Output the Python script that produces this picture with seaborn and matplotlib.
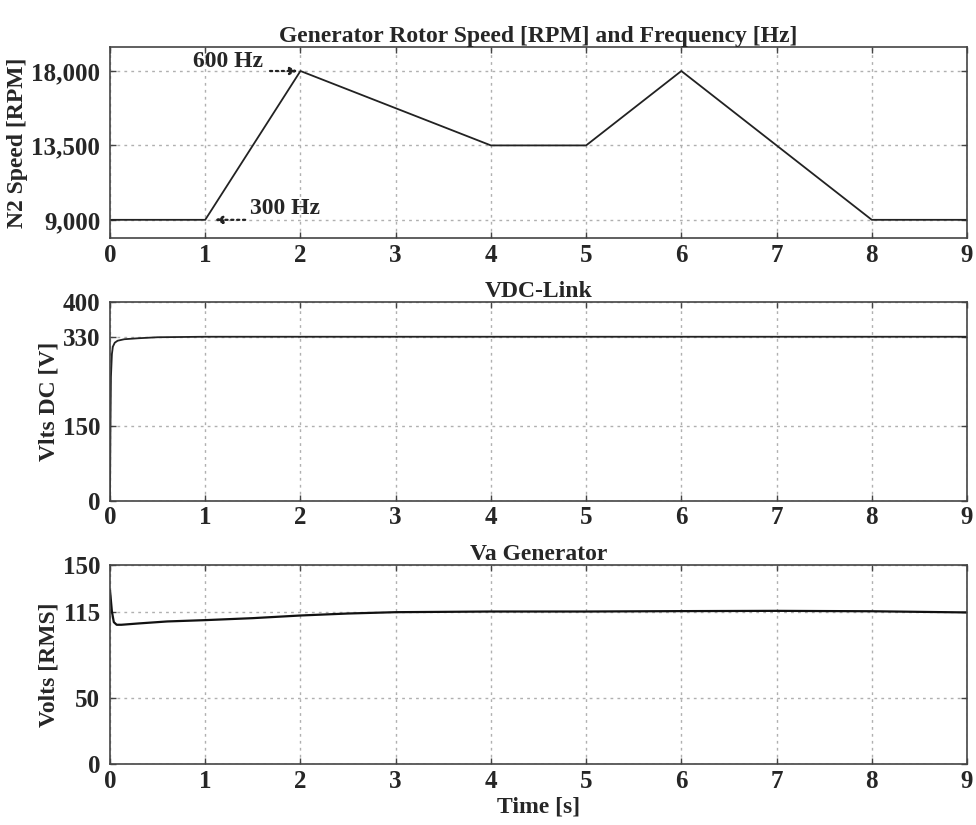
import matplotlib
matplotlib.use("Agg")
import matplotlib.pyplot as plt
import seaborn as sns
import pandas as pd
from matplotlib.ticker import FuncFormatter

sns.set_theme(style="white")
plt.rcParams['font.family'] = ['Liberation Serif', 'DejaVu Serif']
plt.rcParams['font.weight'] = 'bold'

# --- data ---
t_speed = [0, 1, 2, 4, 5, 6, 8, 9]
rpm = [9000, 9000, 18000, 13500, 13500, 18000, 9000, 9000]

t_vdc = [0, 0.005, 0.01, 0.02, 0.03, 0.05, 0.08, 0.15, 0.3, 0.5, 1, 9]
vdc = [0, 150, 250, 295, 310, 318, 322, 325, 327, 329, 330, 330]

t_va = [0, 0.02, 0.04, 0.07, 0.12, 0.3, 0.6, 1.0, 1.5, 2.0, 2.5, 3.0, 4.0, 5.0, 6.0, 7.0, 8.0, 9.0]
va = [131, 115, 107, 105, 105, 106, 107.5, 108.5, 110, 112, 113.5, 114.5, 115, 115, 115.3, 115.5, 115.2, 114.3]

xticks = list(range(0, 10))
speed_ticks = [9000, 13500, 18000]
vdc_ticks = [0, 150, 330, 400]
va_ticks = [0, 50, 115, 150]

fig = plt.figure(figsize=(9.76, 8.25), dpi=100)
L, W = 0.1127, 0.8781
ax1 = fig.add_axes([L, 0.7115, W, 0.2315])
ax2 = fig.add_axes([L, 0.393, W, 0.241])
ax3 = fig.add_axes([L, 0.074, W, 0.241])

tick_fs = 18
lab_fs = 17
title_fs = 17

def style(ax, yticks, ylim, title, ylabel):
    ax.set_xlim(0, 9)
    ax.set_ylim(*ylim)
    ax.set_xticks(xticks)
    ax.set_yticks(yticks)
    ax.grid(True, color='#b0b0b0', linestyle=(0, (2, 3)), linewidth=1.0)
    for s in ax.spines.values():
        s.set_color('#444444')
        s.set_linewidth(1.2)
    ax.tick_params(axis='both', labelsize=tick_fs, length=4, direction='in',
                   color='#444444', width=1)
    ax.tick_params(axis='y', pad=7)
    ax.tick_params(axis='x', pad=4)
    ax.tick_params(axis='both', which='both', top=True, right=True, left=True, bottom=True)
    for lbl in ax.get_xticklabels() + ax.get_yticklabels():
        lbl.set_fontweight('bold')
    ax.set_title(title, fontsize=title_fs, fontweight='bold', pad=1)
    ax.set_ylabel(ylabel, fontsize=lab_fs, fontweight='bold', labelpad=2)
    ax.set_xlabel('')

arrow_kw = dict(arrowstyle='-|>', linestyle=':', color='#222222', lw=1.6,
                mutation_scale=11, shrinkA=0, shrinkB=0)

df1 = pd.DataFrame({'t': t_speed, 'rpm': rpm})
sns.lineplot(data=df1, x='t', y='rpm', ax=ax1, color='#222222', linewidth=1.3)
style(ax1, speed_ticks, (7900, 19450), 'Generator Rotor Speed [RPM] and Frequency [Hz]', 'N2 Speed [RPM]')
ax1.yaxis.set_major_formatter(FuncFormatter(lambda v, p: f'{int(v):,}'))
for lbl in ax1.get_yticklabels():
    lbl.set_fontweight('bold')
ax1.text(1.61, 18600, '600 Hz', fontsize=17, fontweight='bold', ha='right', va='center')
ax1.annotate('', xy=(1.97, 18000), xytext=(1.68, 18000), arrowprops=arrow_kw)
ax1.text(1.47, 9700, '300 Hz', fontsize=17, fontweight='bold', ha='left', va='center')
ax1.annotate('', xy=(1.1, 9000), xytext=(1.42, 9000), arrowprops=arrow_kw)

df2 = pd.DataFrame({'t': t_vdc, 'v': vdc})
sns.lineplot(data=df2, x='t', y='v', ax=ax2, color='#222222', linewidth=1.3)
style(ax2, vdc_ticks, (0, 400), 'VDC-Link', 'Vlts DC [V]')

df3 = pd.DataFrame({'t': t_va, 'v': va})
sns.lineplot(data=df3, x='t', y='v', ax=ax3, color='#111111', linewidth=1.6)
style(ax3, va_ticks, (0, 150), 'Va Generator', 'Volts [RMS]')
ax3.set_xlabel('Time [s]', fontsize=lab_fs, fontweight='bold', labelpad=3)

fig.savefig('out.png', dpi=100, facecolor='white')
